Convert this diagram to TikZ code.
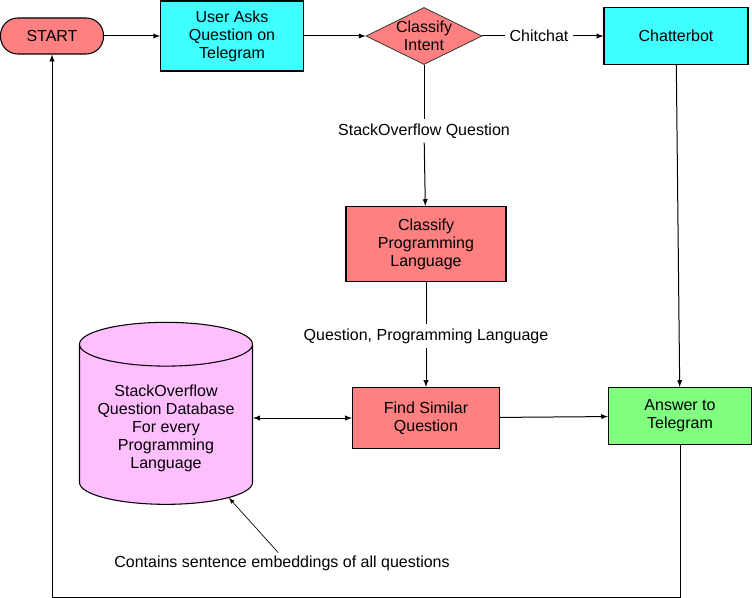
\documentclass[tikz,border=0pt]{standalone}
\usepackage{fontspec}
\setmainfont{Liberation Sans}
\usetikzlibrary{shapes.geometric}
\definecolor{salmon}{HTML}{FF8080}
\definecolor{aqua}{HTML}{40FFFF}
\definecolor{mint}{HTML}{80FF80}
\definecolor{orchid}{HTML}{FFBFFF}

\begin{document}
\begin{tikzpicture}[x=0.75pt, y=-0.75pt, font=\fontsize{12}{13.5}\selectfont]
\tikzstyle{main}=[rectangle, draw=black, line width=0.8pt, align=center, inner sep=2pt]
\tikzstyle{decide}=[diamond, draw=black!80, line width=0.6pt, fill=salmon, align=center, inner xsep=-4pt, inner ysep=-7pt, minimum width=87pt, minimum height=42.75pt]
\tikzstyle{connect}=[-latex, line width=0.75pt]
\tikzstyle{tag}=[inner sep=3pt, fill=white]
\useasboundingbox (0,0) rectangle (752,598);

\node[main, fill=salmon, rounded corners=13pt, minimum width=77.25pt, minimum height=27pt] at (52,36) (start) {START};
\node[main, fill=aqua, minimum width=107pt, minimum height=52.5pt] at (232,36) (user) {User Asks\\Question on\\Telegram};
\node[decide] at (424,36) (intent) {Classify\\Intent};
\node[main, fill=aqua, minimum width=108pt, minimum height=42.75pt] at (676,36) (chatbot) {Chatterbot};
\node[main, fill=salmon, minimum width=120pt, minimum height=56.25pt] at (426,244) (lang) {Classify\\Programming\\Language};
\node[main, fill=salmon, minimum width=110.25pt, minimum height=45.75pt] at (426,418) (similar) {Find Similar\\Question};
\node[main, fill=mint, minimum width=107.25pt, minimum height=42.75pt] at (680,416) (answer) {Answer to\\Telegram};
\node[cylinder, shape border rotate=90, aspect=0.3, draw=black, line width=0.8pt, fill=orchid, align=center, minimum width=129.75pt, minimum height=136.5pt] at (166,428) (db) {StackOverflow\\Question Database\\For every\\Programming\\Language};

% edge labels
\node[tag] at (539,36) (chitchat) {Chitchat};
\node[tag] at (424,131) (soq) {StackOverflow Question};
\node[tag] at (426,336) (qpl) {Question, Programming Language};
\node[inner sep=2pt] at (282,563) (note) {Contains sentence embeddings of all questions};
\coordinate (loop) at (52,597);

\path (start) edge [connect] (user);
\path (user) edge [connect] (intent);
\draw[line width=0.75pt] (intent) -- (chitchat);
\path (chitchat) edge [connect] (chatbot);
\draw[line width=0.75pt] (intent) -- (soq);
\path (soq) edge [connect] (lang);
\draw[line width=0.75pt] (lang) -- (qpl);
\path (qpl) edge [connect] (similar);
\path (chatbot) edge [connect] (answer);
\draw[latex-latex, line width=0.75pt] (db.east |- similar.west) -- (similar.west);
\path (similar) edge [connect] (answer);
\draw[connect] (answer.south) -- (answer.south |- loop) -| (start.south);
\draw[-latex, line width=0.5pt] (note.110) -- (db.-48);
\end{tikzpicture}
\end{document}
